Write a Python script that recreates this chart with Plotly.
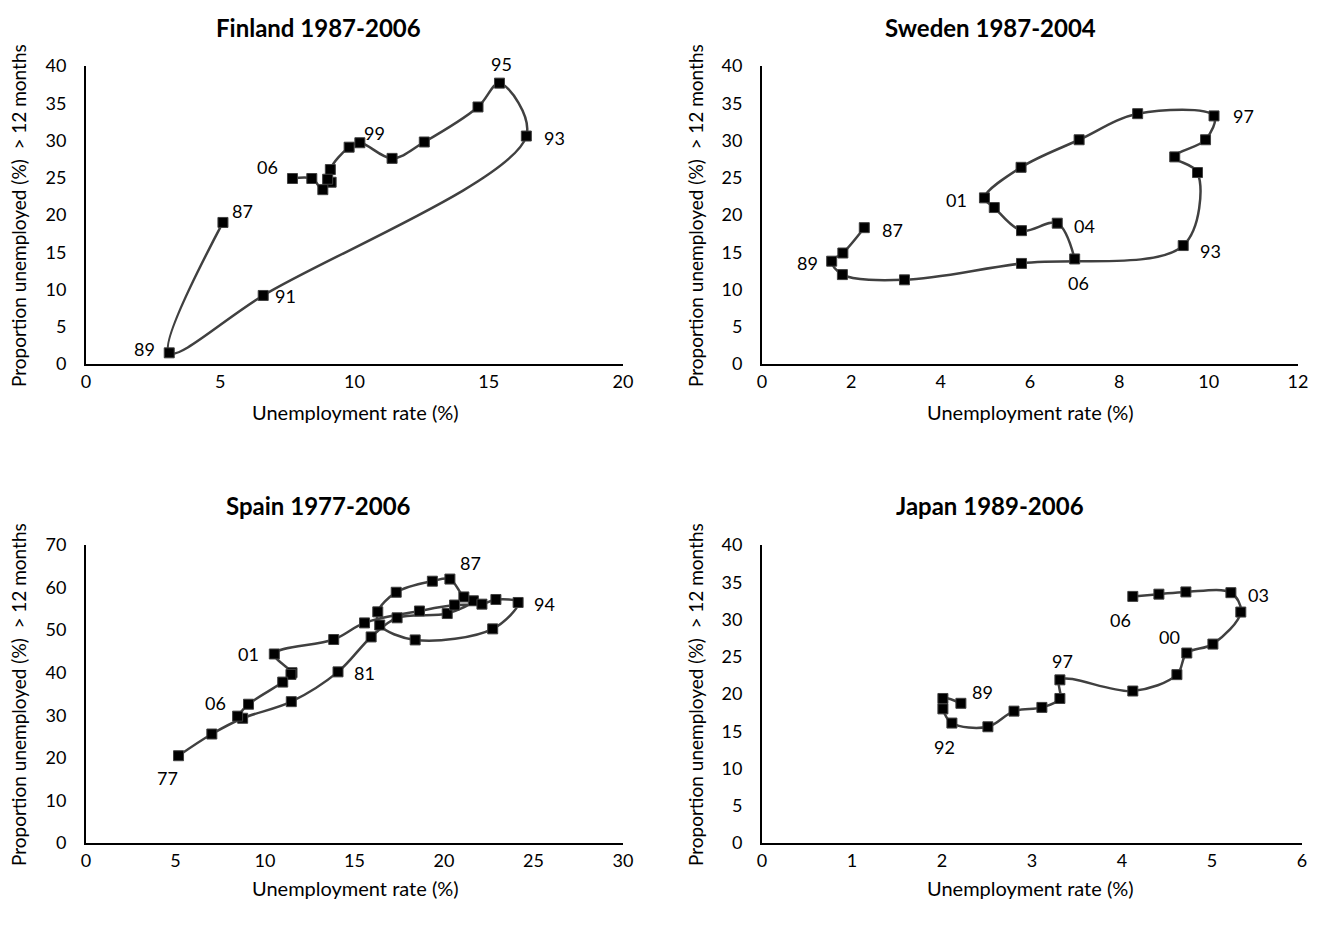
import plotly.graph_objects as go

W, H = 1324, 926

# ---------------- data ----------------
fin_years = ["87", "89", "91", "93", "95", "96", "97", "98", "99", "00", "01", "02", "03", "04", "05", "06"]
fin_x = [5.1, 3.1, 6.6, 16.4, 15.4, 14.6, 12.6, 11.4, 10.2, 9.8, 9.1, 9.13, 9.0, 8.82, 8.41, 7.69]
fin_y = [19.0, 1.5, 9.2, 30.6, 37.7, 34.5, 29.8, 27.6, 29.7, 29.1, 26.1, 24.4, 24.8, 23.4, 24.9, 24.9]

swe_years = ["87", "88", "89", "90", "91", "92", "93", "94", "95", "96", "97", "98", "99", "00",
             "01", "02", "03", "04", "06"]
swe_x = [2.29, 1.81, 1.56, 1.80, 3.19, 5.81, 9.43, 9.75, 9.24, 9.93, 10.12, 8.41, 7.10, 5.80,
         4.98, 5.20, 5.81, 6.61, 7.00]
swe_y = [18.3, 14.9, 13.8, 12.0, 11.3, 13.5, 15.9, 25.7, 27.8, 30.1, 33.3, 33.6, 30.1, 26.4,
         22.3, 21.0, 17.9, 18.9, 14.1]

spa_years = ["77", "78", "79", "80", "81", "82", "83", "84", "85", "86", "87", "88", "89", "90",
             "91", "92", "93", "94", "95", "96", "97", "98", "99", "00", "01", "02", "03", "04",
             "05", "06"]
spa_x = [5.17, 7.03, 8.75, 11.47, 14.08, 15.93, 17.38, 20.18, 21.64, 21.11, 20.33, 19.35, 17.33,
         16.30, 16.41, 18.39, 22.72, 24.14, 22.90, 22.12, 20.59, 18.63, 15.56, 13.84, 10.52, 11.51,
         11.45, 10.99, 9.08, 8.47]
spa_y = [20.5, 25.6, 29.3, 33.2, 40.2, 48.4, 52.9, 53.9, 56.9, 57.8, 62.0, 61.5, 58.9, 54.3,
         51.2, 47.7, 50.3, 56.5, 57.2, 56.1, 55.9, 54.5, 51.7, 47.8, 44.4, 40.0, 39.6, 37.8,
         32.6, 29.8]

jpn_years = ["89", "90", "91", "92", "93", "94", "95", "96", "97", "98", "99", "00", "01", "02",
             "03", "04", "05", "06"]
jpn_x = [2.21, 2.01, 2.01, 2.11, 2.51, 2.80, 3.11, 3.31, 3.31, 4.12, 4.61, 4.72, 5.01, 5.32,
         5.21, 4.71, 4.41, 4.12]
jpn_y = [18.75, 19.4, 18.0, 16.1, 15.6, 17.7, 18.2, 19.4, 21.9, 20.4, 22.6, 25.5, 26.7, 31.0,
         33.6, 33.7, 33.4, 33.1]

titles = ["Finland 1987-2006", "Sweden 1987-2004", "Spain 1977-2006", "Japan 1989-2006"]
x_title = "Unemployment rate (%)"
y_title = "Proportion unemployed (%)&nbsp;&nbsp;&gt; 12 months"

# labelled years and label offsets (pixels) per panel
fin_labels = {"87": (20, 11), "89": (-25, 4), "91": (22, -1), "93": (28, -2), "95": (2, 19),
              "99": (15, 10), "06": (-25, 11)}
swe_labels = {"87": (28, -2), "89": (-24, -2), "01": (-28, -2), "04": (27, -3), "93": (27, -5),
              "06": (4, -24), "97": (29, 0)}
spa_labels = {"77": (-11, -22), "81": (26, -1), "87": (21, 16), "94": (26, -2), "01": (-26, 0),
              "06": (-22, 13)}
jpn_labels = {"89": (22, 11), "92": (-7, -24), "97": (3, 19), "00": (-17, 16), "03": (28, -2),
              "06": (-12, -24)}

# ---------------- layout geometry ----------------
FONT = "Lato, 'Open Sans', sans-serif"
LINE_COLOR = "#404040"
TICK_SIZE = 18
LABEL_SIZE = 18
AXTITLE_SIZE = 20
TITLE_SIZE = 24

panels = [
    dict(x=fin_x, y=fin_y, years=fin_years, labels=fin_labels, xr=[0, 20], xd=5, yr=[0, 40], yd=5,
         px=(86, 623), py=(66, 364), title_c=(318, 28), xt_c=(355, 412), yt_c=(18, 216)),
    dict(x=swe_x, y=swe_y, years=swe_years, labels=swe_labels, xr=[0, 12], xd=2, yr=[0, 40], yd=5,
         px=(762, 1298), py=(66, 364), title_c=(990, 28), xt_c=(1030, 412), yt_c=(695, 216)),
    dict(x=spa_x, y=spa_y, years=spa_years, labels=spa_labels, xr=[0, 30], xd=5, yr=[0, 70], yd=10,
         px=(86, 623), py=(545, 843), title_c=(318, 505), xt_c=(355, 888), yt_c=(18, 695)),
    dict(x=jpn_x, y=jpn_y, years=jpn_years, labels=jpn_labels, xr=[0, 6], xd=1, yr=[0, 40], yd=5,
         px=(762, 1302), py=(545, 843), title_c=(990, 505), xt_c=(1030, 888), yt_c=(695, 695)),
]

fig = go.Figure()
annotations = []
layout_axes = {}

for i, p in enumerate(panels):
    n = "" if i == 0 else str(i + 1)
    xa, ya = "x" + n, "y" + n
    fig.add_trace(go.Scatter(
        x=p["x"], y=p["y"], xaxis=xa, yaxis=ya, mode="lines+markers",
        line=dict(color=LINE_COLOR, width=2.5, shape="spline", smoothing=1.0),
        marker=dict(symbol="square", size=10, color="black", line=dict(color=LINE_COLOR, width=1)),
        cliponaxis=False, showlegend=False, hoverinfo="skip"))

    layout_axes["xaxis" + n] = dict(
        domain=[p["px"][0] / W, p["px"][1] / W], range=p["xr"], dtick=p["xd"], tick0=0,
        anchor=ya, showgrid=False, zeroline=False, showline=True, linecolor="black", linewidth=2,
        ticks="", ticklabelstandoff=0, automargin=False,
        tickfont=dict(family=FONT, size=TICK_SIZE, color="black"), fixedrange=True)
    layout_axes["yaxis" + n] = dict(
        domain=[1 - p["py"][1] / H, 1 - p["py"][0] / H], range=p["yr"], dtick=p["yd"], tick0=0,
        anchor=xa, showgrid=False, zeroline=False, showline=True, linecolor="black", linewidth=2,
        ticks="", ticklabelstandoff=14, automargin=False,
        tickfont=dict(family=FONT, size=TICK_SIZE, color="black"), fixedrange=True)

    # year labels
    for yr, (dx, dy) in p["labels"].items():
        k = p["years"].index(yr)
        annotations.append(dict(
            x=p["x"][k], y=p["y"][k], xref=xa, yref=ya, text=yr, showarrow=False,
            xshift=dx, yshift=dy, xanchor="center", yanchor="middle",
            font=dict(family=FONT, size=LABEL_SIZE, color="black")))

    # panel title
    annotations.append(dict(
        x=p["title_c"][0] / W, y=1 - p["title_c"][1] / H, xref="paper", yref="paper",
        text="<b>" + titles[i] + "</b>", showarrow=False, xanchor="center", yanchor="middle",
        font=dict(family=FONT, size=TITLE_SIZE, color="black")))
    # x title
    annotations.append(dict(
        x=p["xt_c"][0] / W, y=1 - p["xt_c"][1] / H, xref="paper", yref="paper",
        text=x_title, showarrow=False, xanchor="center", yanchor="middle",
        font=dict(family=FONT, size=AXTITLE_SIZE, color="black")))
    # y title
    annotations.append(dict(
        x=p["yt_c"][0] / W, y=1 - p["yt_c"][1] / H, xref="paper", yref="paper",
        text=y_title, showarrow=False, xanchor="center", yanchor="middle", textangle=-90,
        font=dict(family=FONT, size=19, color="black")))

fig.update_layout(
    width=W, height=H, margin=dict(l=0, r=0, t=0, b=0, pad=0), autosize=False,
    paper_bgcolor="white", plot_bgcolor="white",
    annotations=annotations, showlegend=False,
    font=dict(family=FONT, size=16, color="black"),
    **layout_axes)

fig.write_html("out.html", config={"displayModeBar": False})
